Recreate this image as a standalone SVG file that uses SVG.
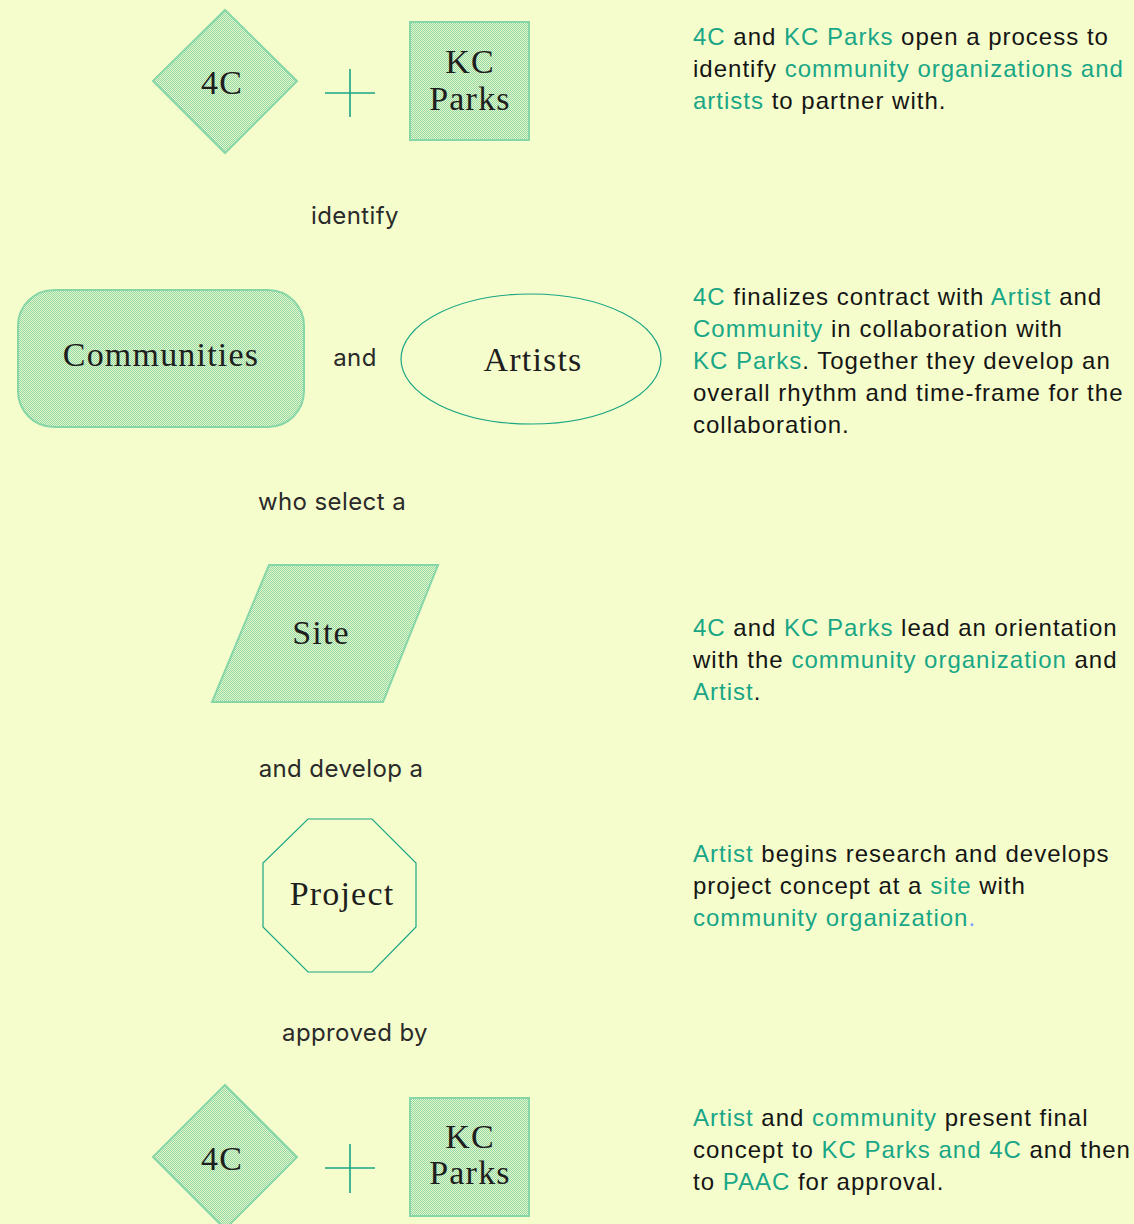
<svg xmlns="http://www.w3.org/2000/svg" width="1134" height="1224" viewBox="0 0 1134 1224">
<defs>
<pattern id="dots" width="2" height="2" patternUnits="userSpaceOnUse">
<rect width="2" height="2" fill="#e8f7c4"/>
<rect x="0" y="0" width="1" height="1" fill="#8ed8ac"/>
<rect x="1" y="1" width="1" height="1" fill="#8ed8ac"/>
</pattern>
<style>
.fillshape{fill:url(#dots);stroke:#86d6a8;stroke-width:2}
.lineshape{fill:none;stroke:#1aa584;stroke-width:1.2}
.plus{stroke:#1aa584;stroke-width:1.6;fill:none}
.serif{font-family:"Liberation Serif","DejaVu Serif",serif;font-size:34px;letter-spacing:1.2px;fill:#1e1e1e;text-anchor:middle}
.lbl{font-family:Inter,"Liberation Sans",sans-serif;font-size:24px;letter-spacing:0.4px;fill:#2a2a2a;text-anchor:middle}
.desc{font-family:"Liberation Sans",Arial,sans-serif;font-size:24px;letter-spacing:1px;fill:#151515}
.g{fill:#19a687}
.b{fill:#7a9cff}
</style>
</defs>
<rect width="1134" height="1224" fill="#f6fdcc"/>

<g id="node-4c-top">
<polygon class="fillshape" points="225,10 297,81 225,153 153,81"/>
<text class="serif" x="222" y="94">4C</text>
</g>
<g id="plus-top"><path class="plus" d="M325,93 H375 M350,69 V117"/></g>
<g id="node-kcparks-top">
<rect class="fillshape" x="410" y="22" width="119" height="118"/>
<text class="serif" x="470" y="73">KC</text>
<text class="serif" x="470" y="110">Parks</text>
</g>

<g id="node-communities">
<rect class="fillshape" x="18" y="290" width="286" height="137" rx="36" ry="36"/>
<text class="serif" x="161" y="366">Communities</text>
</g>
<g id="node-artists">
<ellipse class="lineshape" cx="531" cy="359" rx="130" ry="65"/>
<text class="serif" x="533" y="371">Artists</text>
</g>

<g id="node-site">
<polygon class="fillshape" points="269,565 438,565 383,702 212,702"/>
<text class="serif" x="321" y="644">Site</text>
</g>

<g id="node-project">
<polygon class="lineshape" points="308,819 372,819 416,863 416,927 372,972 308,972 263,927 263,863"/>
<text class="serif" x="342" y="905">Project</text>
</g>

<g id="node-4c-bottom">
<polygon class="fillshape" points="225,1085 297,1157 225,1229 153,1157"/>
<text class="serif" x="222" y="1170">4C</text>
</g>
<g id="plus-bottom"><path class="plus" d="M325,1168 H375 M350,1144 V1193"/></g>
<g id="node-kcparks-bottom">
<rect class="fillshape" x="410" y="1098" width="119" height="118"/>
<text class="serif" x="470" y="1148">KC</text>
<text class="serif" x="470" y="1184">Parks</text>
</g>

<g id="connectors">
<text class="lbl" x="355" y="224">identify</text>
<text class="lbl" x="355" y="366">and</text>
<text class="lbl" x="332" y="510">who select a</text>
<text class="lbl" x="341" y="777">and develop a</text>
<text class="lbl" x="355" y="1041">approved by</text>
</g>

<g id="descriptions">
<text class="desc" x="693" y="45"><tspan class="g">4C</tspan> and <tspan class="g">KC Parks</tspan> open a process to</text>
<text class="desc" x="693" y="77">identify <tspan class="g">community organizations and</tspan></text>
<text class="desc" x="693" y="109"><tspan class="g">artists</tspan> to partner with.</text>

<text class="desc" x="693" y="305"><tspan class="g">4C</tspan> finalizes contract with <tspan class="g">Artist</tspan> and</text>
<text class="desc" x="693" y="337"><tspan class="g">Community</tspan> in collaboration with</text>
<text class="desc" x="693" y="369"><tspan class="g">KC Parks</tspan>. Together they develop an</text>
<text class="desc" x="693" y="401">overall rhythm and time-frame for the</text>
<text class="desc" x="693" y="433">collaboration.</text>

<text class="desc" x="693" y="636"><tspan class="g">4C</tspan> and <tspan class="g">KC Parks</tspan> lead an orientation</text>
<text class="desc" x="693" y="668">with the <tspan class="g">community organization</tspan> and</text>
<text class="desc" x="693" y="700"><tspan class="g">Artist</tspan>.</text>

<text class="desc" x="693" y="862"><tspan class="g">Artist</tspan> begins research and develops</text>
<text class="desc" x="693" y="894">project concept at a <tspan class="g">site</tspan> with</text>
<text class="desc" x="693" y="926"><tspan class="g">community organization</tspan><tspan class="b">.</tspan></text>

<text class="desc" x="693" y="1126"><tspan class="g">Artist</tspan> and <tspan class="g">community</tspan> present final</text>
<text class="desc" x="693" y="1158">concept to <tspan class="g">KC Parks and 4C</tspan> and then</text>
<text class="desc" x="693" y="1190">to <tspan class="g">PAAC</tspan> for approval.</text>
</g>
</svg>
